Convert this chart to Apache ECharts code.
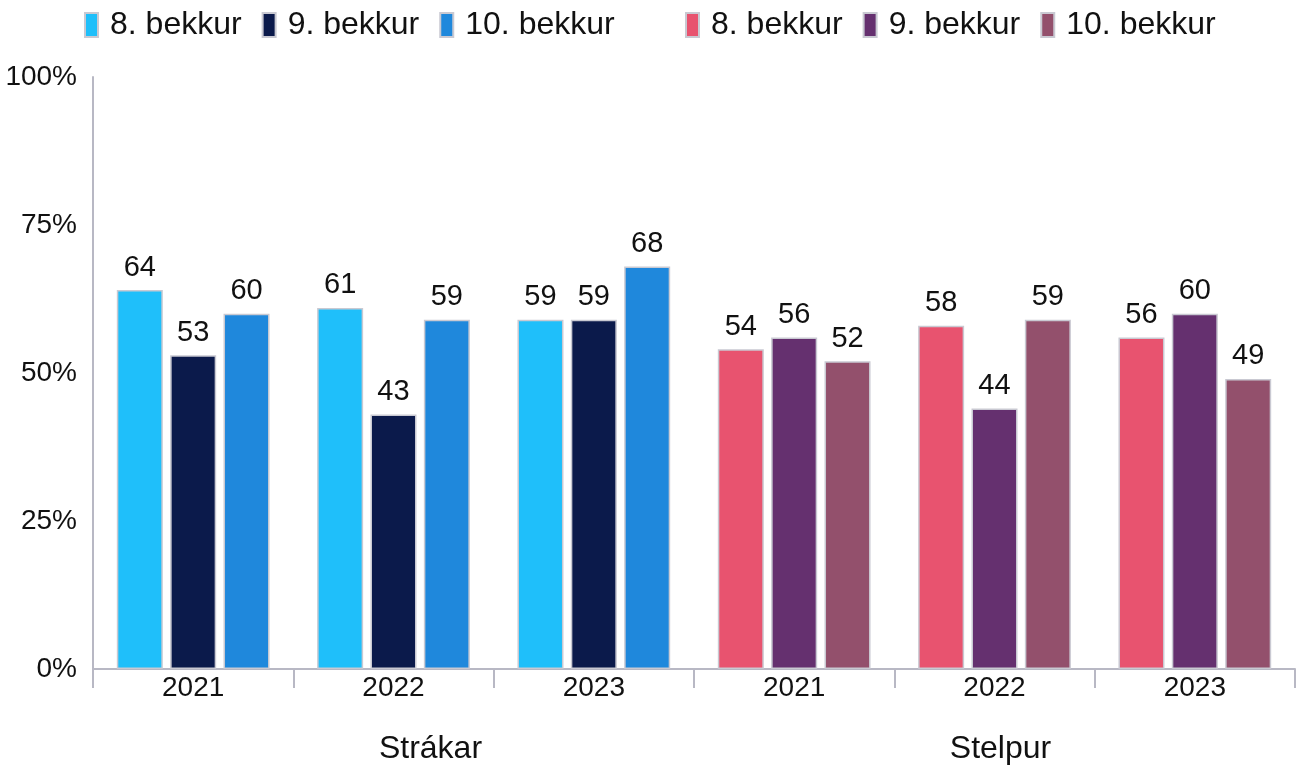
<!DOCTYPE html>
<html>
<head>
<meta charset="utf-8">
<title>bekkur</title>
<script src="https://cdn.jsdelivr.net/npm/echarts@6/dist/echarts.min.js"></script>
<style>html,body{margin:0;background:#fff}</style>
</head>
<body>
<div id="chart" style="width:1305px;height:765px"></div>
<script>
const years = ['2021', '2022', '2023', '2021 ', '2022 ', '2023 '];
const groups = ['Strákar', 'Stelpur'];
const grades = ['8. bekkur', '9. bekkur', '10. bekkur'];
const yTicks = [0, 25, 50, 75, 100];
// strákar: values for 2021, 2022, 2023
const boys8 = [64, 61, 59];
const boys9 = [53, 43, 59];
const boys10 = [60, 59, 68];
// stelpur
const girls8 = [54, 58, 56];
const girls9 = [56, 44, 60];
const girls10 = [52, 59, 49];

const boyColors = ['#1fbffa', '#0b1a4b', '#1f88dc'];
const girlColors = ['#e8536f', '#65306f', '#93506c'];
const font = 'Liberation Sans, Arial, sans-serif';

function bar(name, vals, color, stack, isGirl) {
  const pad = ['-', '-', '-'];
  return {
    name: name,
    type: 'bar',
    stack: stack,
    barWidth: 46,
    barGap: '16%',
    data: isGirl ? pad.concat(vals) : vals.concat(pad),
    itemStyle: { color: color, borderColor: '#c9c9d2', borderWidth: 1.5 },
    label: { show: true, position: 'top', distance: 8, color: '#111', fontSize: 29, fontFamily: font },
    emphasis: { disabled: true }
  };
}

const series = [];
grades.forEach((g, i) => {
  series.push(bar('S|' + g, [boys8, boys9, boys10][i], boyColors[i], 'g' + i, false));
});
grades.forEach((g, i) => {
  series.push(bar('G|' + g, [girls8, girls9, girls10][i], girlColors[i], 'g' + i, true));
});

const legendBase = {
  top: 4,
  itemWidth: 13,
  itemHeight: 24,
  itemGap: 20,
  icon: 'rect',
  textStyle: { fontSize: 32, color: '#111', fontFamily: font, padding: [0, 0, 0, 7] },
  formatter: n => n.split('|')[1]
};

const option = {
  animation: false,
  legend: [
    Object.assign({}, legendBase, { left: 79, data: grades.map(g => 'S|' + g) }),
    Object.assign({}, legendBase, { left: 680, data: grades.map(g => 'G|' + g) })
  ],
  grid: { left: 93, right: 10, top: 77, bottom: 95, containLabel: false },
  xAxis: [{
    type: 'category',
    data: years,
    axisLine: { lineStyle: { color: '#b8b8c4', width: 2 } },
    axisTick: { show: true, interval: 0, length: 19, lineStyle: { color: '#b8b8c4', width: 2 } },
    axisLabel: { fontSize: 28, color: '#111', fontFamily: font, margin: 5, formatter: v => v.trim() }
  }, {
    type: 'category',
    data: [
      { value: groups[0], textStyle: { padding: [0, 0, 0, 74] } },
      { value: groups[1], textStyle: { padding: [0, 0, 0, 12] } }
    ],
    position: 'bottom',
    offset: 56,
    axisLine: { show: false },
    axisTick: { show: false },
    axisLabel: { fontSize: 32, color: '#111', fontFamily: font }
  }],
  yAxis: {
    type: 'value',
    min: yTicks[0],
    max: yTicks[yTicks.length - 1],
    interval: 25,
    splitLine: { show: false },
    axisLine: { show: true, lineStyle: { color: '#b8b8c4', width: 2 } },
    axisTick: { show: false },
    axisLabel: { fontSize: 28, color: '#111', fontFamily: font, margin: 16, formatter: '{value}%' }
  },
  series: series
};

echarts.init(document.getElementById('chart')).setOption(option);
</script>
</body>
</html>
